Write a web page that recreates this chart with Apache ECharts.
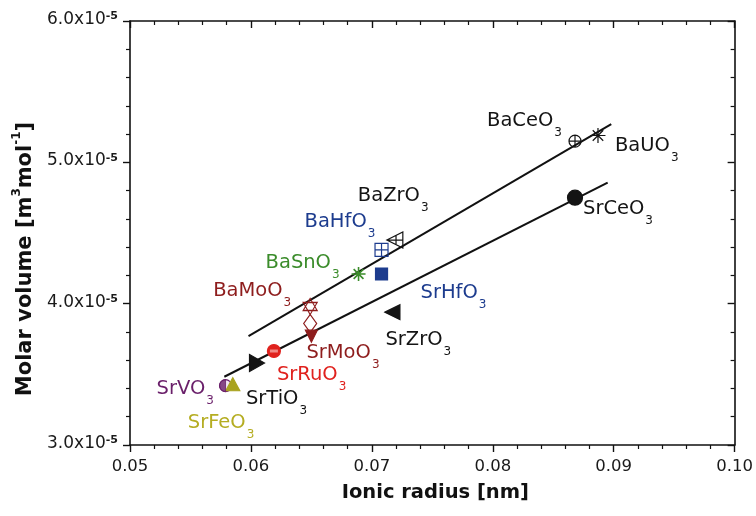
<!DOCTYPE html>
<html>
<head>
<meta charset="utf-8">
<script src="https://cdn.jsdelivr.net/npm/echarts@6/dist/echarts.min.js"></script>
<style>
  html, body { margin: 0; padding: 0; background: #fff; }
  #chart { width: 756px; height: 516px; }
</style>
</head>
<body>
<div id="chart"></div>
<script>
// Perovskite oxides ABO3: B-site ionic radius vs. molar volume

// compound names (the trailing digit is drawn as a subscript)
const compounds   = ['BaCeO3', 'BaUO3', 'SrCeO3', 'BaZrO3', 'BaHfO3', 'SrHfO3', 'BaSnO3', 'SrZrO3',
                     'BaMoO3', 'BaMoO3', 'SrMoO3', 'SrRuO3', 'SrTiO3', 'SrVO3', 'SrFeO3'];
// B-site ionic radius [nm]
const ionicRadius = [0.0868, 0.0887, 0.0868, 0.0719, 0.0708, 0.0708, 0.0689, 0.0717,
                     0.0649, 0.0649, 0.0650, 0.0619, 0.0605, 0.0579, 0.0585];
// molar volume [x10^-5 m3 mol^-1]
const molarVolume = [5.15, 5.19, 4.75, 4.45, 4.38, 4.21, 4.21, 3.94,
                     3.98, 3.86, 3.77, 3.665, 3.58, 3.42, 3.43];

// linear trend lines (Ba series and Sr series), end points
const baFitRadius = [0.0598, 0.0898];
const baFitVolume = [3.77, 5.27];
const srFitRadius = [0.0578, 0.0895];
const srFitVolume = [3.483, 4.856];

// axis ticks
const xTicks = [0.05, 0.06, 0.07, 0.08, 0.09, 0.10];
const yTicks = [3, 4, 5, 6];

// marker glyphs
const ICON = {
  circlePlus:   'path://M-1,0A1,1,0,1,1,1,0A1,1,0,1,1,-1,0ZM0,-1L0,1M-1,0L1,0',
  asterisk:     'path://M0,-1L0,1M-1,0L1,0M-0.7,-0.7L0.7,0.7M-0.7,0.7L0.7,-0.7',
  triLeftCross: 'path://M-1,0L1,-1L1,1ZM-1,0L1,0M0.15,-0.58L0.15,0.58',
  squarePlus:   'path://M-1,-1L1,-1L1,1L-1,1ZM0,-1L0,1M-1,0L1,0',
  triLeft:      'path://M-1,0L1,-1L1,1Z',
  triRight:     'path://M1,0L-1,-1L-1,1Z',
  triDown:      'path://M-1,-1L1,-1L0,1Z',
  triUp:        'path://M0,-1L1,1L-1,1Z',
  hexagram:     'path://M0,-1L0.866,0.5L-0.866,0.5ZM0,1L0.866,-0.5L-0.866,-0.5Z',
  halfLeft:     'path://M0,-1A1,1,0,0,0,0,1Z'
};

const NONE = 'rgba(0,0,0,0)';
const BLACK = '#141414';
const DARKRED = '#8e1d1d';
const RED = '#e0221e';
const BLUE = '#1d3c8e';
const GREEN = '#3b8c2b';
const PURPLE = '#6a1f6a';
const OLIVE = '#a9a31f';
const FONT = '"DejaVu Sans", Verdana, sans-serif';

// per-point marker and label styling (same order as the data arrays)
const pointStyles = [
  { sym: ICON.circlePlus,   size: 12,       fill: NONE,    stroke: BLACK,   lab: BLACK,   off: [-88, -19] },
  { sym: ICON.asterisk,     size: 15,       fill: NONE,    stroke: BLACK,   lab: BLACK,   off: [17, 11] },
  { sym: 'circle',          size: 15,       fill: BLACK,   stroke: BLACK,   lab: BLACK,   off: [8, 12.5] },
  { sym: ICON.triLeftCross, size: 16,       fill: NONE,    stroke: BLACK,   lab: BLACK,   off: [-37, -43] },
  { sym: ICON.squarePlus,   size: 13,       fill: NONE,    stroke: BLUE,    lab: BLUE,    off: [-77, -27] },
  { sym: 'rect',            size: 12,       fill: BLUE,    stroke: BLUE,    lab: BLUE,    off: [39, 19.5] },
  { sym: ICON.asterisk,     size: 14,       fill: NONE,    stroke: GREEN,   lab: GREEN,   off: [-93, -10], lw: 1.6 },
  { sym: ICON.triLeft,      size: 15,       fill: BLACK,   stroke: BLACK,   lab: BLACK,   off: [-7, 29] },
  { sym: ICON.hexagram,     size: [14, 16], fill: NONE,    stroke: DARKRED, lab: DARKRED, off: [-97, -15] },
  { sym: 'diamond',         size: [13, 18], fill: NONE,    stroke: DARKRED, lab: DARKRED, off: [0, 0], hide: true },
  { sym: ICON.triDown,      size: 12,       fill: DARKRED, stroke: DARKRED, lab: DARKRED, off: [-5, 17.7] },
  { sym: 'circle',          size: 13,       fill: RED,     stroke: RED,     lab: RED,     off: [3, 25] },
  { sym: ICON.triRight,     size: [15, 17], fill: BLACK,   stroke: BLACK,   lab: BLACK,   off: [-11, 36.5] },
  { sym: 'circle',          size: 12,       fill: '#f3e6f3', stroke: PURPLE, lab: PURPLE, off: [-69, 4.5] },
  { sym: ICON.triUp,        size: [14, 13], fill: OLIVE,   stroke: OLIVE,   lab: '#b5ad22', off: [-45, 39.5] }
];

const labelRich = {
  m: { fontSize: 19.5, lineHeight: 22, verticalAlign: 'top', fontFamily: FONT },
  s: { fontSize: 12, lineHeight: 12, verticalAlign: 'top', padding: [16, 0, 0, 1], fontFamily: FONT }
};
const chemLabel = name => `{m|${name.slice(0, -1)}}{s|${name.slice(-1)}}`;

const pointData = compounds.map((name, i) => {
  const st = pointStyles[i];
  return {
    name: name,
    value: [ionicRadius[i], molarVolume[i]],
    symbol: st.sym,
    symbolSize: st.size,
    itemStyle: { color: st.fill, borderColor: st.stroke, borderWidth: st.lw || 1.2, opacity: 1 },
    label: {
      show: !st.hide,
      position: 'inside',
      align: 'left',
      verticalAlign: 'middle',
      offset: st.off,
      color: st.lab,
      formatter: () => chemLabel(name),
      rich: labelRich
    }
  };
});

// extra glyph parts drawn on top of some markers
const idx = n => compounds.indexOf(n);
const overlayData = [
  { value: [ionicRadius[idx('SrVO3')], molarVolume[idx('SrVO3')]], symbol: ICON.halfLeft, symbolSize: 12,
    symbolKeepAspect: true, symbolOffset: [-3, 0], itemStyle: { color: PURPLE, borderColor: PURPLE, borderWidth: 1 } },
  { value: [ionicRadius[idx('SrRuO3')], molarVolume[idx('SrRuO3')]], symbol: 'rect', symbolSize: [8, 3],
    itemStyle: { color: '#f5a5a0', borderWidth: 0 } }
];

const axisText = { color: '#1a1a1a', fontFamily: FONT };
const axisLine = { show: true, lineStyle: { color: '#111', width: 1.6 } };
const majorTick = inside => ({ show: true, length: 7, inside: inside, lineStyle: { color: '#111', width: 1.4 } });
const minorTick = { show: true, splitNumber: 5, length: 4, lineStyle: { color: '#111', width: 1.2 } };

const chart = echarts.init(document.getElementById('chart'), null, { renderer: 'canvas' });
chart.setOption({
  animation: false,
  backgroundColor: '#fff',
  grid: { left: 130, right: 16.5, top: 21, bottom: 71, containLabel: false },
  xAxis: [
    {
      type: 'value', position: 'bottom',
      min: xTicks[0], max: xTicks[xTicks.length - 1], interval: 0.01,
      axisLine: axisLine, axisTick: majorTick(false), minorTick: minorTick,
      splitLine: { show: false },
      axisLabel: { ...axisText, fontSize: 16.5, margin: 13, formatter: v => v.toFixed(2) },
      name: 'Ionic radius [nm]', nameLocation: 'middle', nameGap: 38,
      nameTextStyle: { ...axisText, fontSize: 19.5, fontWeight: 'bold', color: '#111', padding: [0, 0, 0, 6] }
    },
    {
      type: 'value', position: 'top',
      min: xTicks[0], max: xTicks[xTicks.length - 1], interval: 0.01,
      axisLine: axisLine, axisTick: majorTick(true), minorTick: minorTick,
      splitLine: { show: false },
      axisLabel: { show: false }
    }
  ],
  yAxis: [
    {
      type: 'value', position: 'left',
      min: yTicks[0], max: yTicks[yTicks.length - 1], interval: 1,
      axisLine: axisLine, axisTick: majorTick(false), minorTick: minorTick,
      splitLine: { show: false },
      axisLabel: {
        ...axisText, margin: 12,
        formatter: v => `{a|${v.toFixed(1)}x10}{s|-5}`,
        rich: {
          a: { fontSize: 17, lineHeight: 20, verticalAlign: 'top', fontFamily: FONT, color: '#1a1a1a' },
          s: { fontSize: 11, lineHeight: 12, verticalAlign: 'top', fontFamily: FONT, color: '#1a1a1a', fontWeight: 'bold' }
        }
      },
      name: '{t|Molar volume [m}{u|3}{t|mol}{u|-1}{t|]}',
      nameLocation: 'middle', nameGap: 85,
      nameTextStyle: {
        color: '#111',
        padding: [0, 52, 0, 0],
        rich: {
          t: { fontSize: 21, fontWeight: 'bold', lineHeight: 25, verticalAlign: 'bottom', fontFamily: FONT, color: '#111' },
          u: { fontSize: 12, fontWeight: 'bold', lineHeight: 25, verticalAlign: 'top', fontFamily: FONT, color: '#111' }
        }
      }
    },
    {
      type: 'value', position: 'right',
      min: yTicks[0], max: yTicks[yTicks.length - 1], interval: 1,
      axisLine: axisLine, axisTick: majorTick(true), minorTick: minorTick,
      splitLine: { show: false },
      axisLabel: { show: false }
    }
  ],
  series: [
    {
      type: 'line', name: 'Ba fit', xAxisIndex: 0, yAxisIndex: 0,
      data: baFitRadius.map((x, i) => [x, baFitVolume[i]]),
      showSymbol: false, symbol: 'none',
      lineStyle: { color: '#111', width: 2 }, z: 1, silent: true
    },
    {
      type: 'line', name: 'Sr fit', xAxisIndex: 0, yAxisIndex: 0,
      data: srFitRadius.map((x, i) => [x, srFitVolume[i]]),
      showSymbol: false, symbol: 'none',
      lineStyle: { color: '#111', width: 2 }, z: 1, silent: true
    },
    {
      type: 'scatter', name: 'compounds', xAxisIndex: 0, yAxisIndex: 0,
      data: pointData, z: 3, silent: true
    },
    {
      type: 'scatter', name: 'marker details', xAxisIndex: 0, yAxisIndex: 0,
      data: overlayData, z: 4, silent: true, label: { show: false }
    }
  ]
});
</script>
</body>
</html>
